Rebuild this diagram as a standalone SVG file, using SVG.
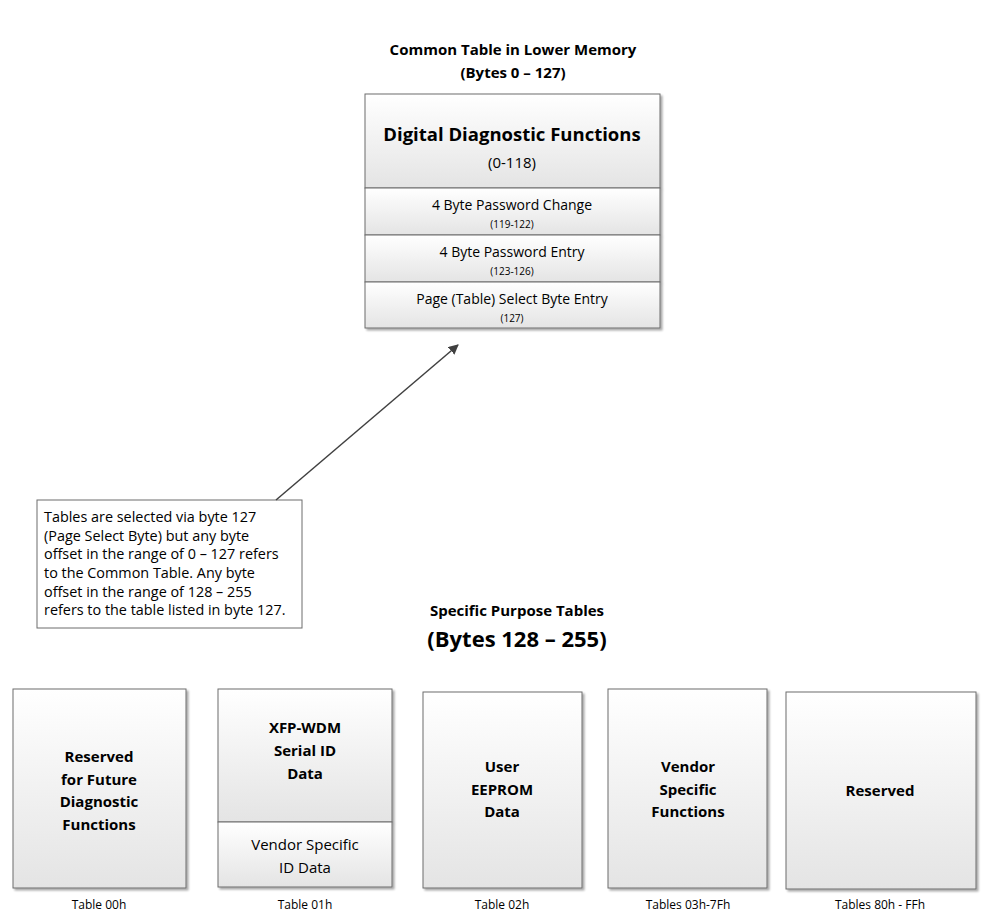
<svg xmlns="http://www.w3.org/2000/svg" width="981" height="913" viewBox="0 0 981 913">
<defs>
<linearGradient id="g" x1="0" y1="0" x2="0" y2="1">
<stop offset="0" stop-color="#ffffff"/>
<stop offset="1" stop-color="#e4e4e4"/>
</linearGradient>
<filter id="sh" x="-5%" y="-5%" width="115%" height="115%">
<feGaussianBlur in="SourceAlpha" stdDeviation="1.2"/>
<feOffset dx="2" dy="2" result="b"/>
<feComponentTransfer><feFuncA type="linear" slope="0.35"/></feComponentTransfer>
<feMerge><feMergeNode/><feMergeNode in="SourceGraphic"/></feMerge>
</filter>
<marker id="ah" viewBox="0 0 10 10" refX="9" refY="5" markerWidth="10" markerHeight="10" markerUnits="userSpaceOnUse" orient="auto">
<path d="M0,0 L10,5 L0,10 z" fill="#404040"/>
</marker>
</defs>
<style>
text{font-family:"Open Sans","Liberation Sans",sans-serif;fill:#000;}
.box{fill:url(#g);stroke:#6d6d6d;stroke-width:1;}
.t{text-anchor:middle;}
.b{font-weight:bold;}
.title{font-size:15px;font-weight:bold;text-anchor:middle;}
.bx{font-size:15px;font-weight:bold;text-anchor:middle;}
.rg{font-size:14px;text-anchor:middle;}
.sm{font-size:10px;text-anchor:middle;}
.lab{font-size:12px;text-anchor:middle;}
.note{font-size:14.4px;}
</style>
<rect width="981" height="913" fill="#fff"/>
<text class="title" x="513" y="55">Common Table in Lower Memory</text>
<text class="title" x="513" y="78">(Bytes 0 – 127)</text>
<text class="title" x="517" y="616">Specific Purpose Tables</text>
<text class="title" x="517" y="647" style="font-size:22px">(Bytes 128 – 255)</text>

<g id="common-table" filter="url(#sh)">
<rect class="box" x="365" y="94" width="295" height="94"/>
<rect class="box" x="365" y="188" width="295" height="47"/>
<rect class="box" x="365" y="235" width="295" height="47"/>
<rect class="box" x="365" y="282" width="295" height="46"/>
</g>
<g id="common-text">
<text class="t b" x="512" y="141" style="font-size:18.5px">Digital Diagnostic Functions</text>
<text class="rg" x="512" y="168" style="font-size:15px">(0-118)</text>
<text class="rg" x="512" y="210">4 Byte Password Change</text>
<text class="sm" x="512" y="228">(119-122)</text>
<text class="rg" x="512" y="257">4 Byte Password Entry</text>
<text class="sm" x="512" y="275">(123-126)</text>
<text class="rg" x="512" y="304">Page (Table) Select Byte Entry</text>
<text class="sm" x="512" y="322">(127)</text>
</g>

<g id="note">
<rect x="37" y="500" width="265" height="128" fill="#fff" stroke="#6d6d6d" stroke-width="1"/>
<text class="note" x="44" y="522">Tables are selected via byte 127</text>
<text class="note" x="44" y="541">(Page Select Byte) but any byte</text>
<text class="note" x="44" y="559">offset in the range of 0 – 127 refers</text>
<text class="note" x="44" y="578">to the Common Table. Any byte</text>
<text class="note" x="44" y="597">offset in the range of 128 – 255</text>
<text class="note" x="44" y="615">refers to the table listed in byte 127.</text>
</g>

<g id="connectors">
<line x1="276" y1="500" x2="458" y2="345" stroke="#404040" stroke-width="1.5" marker-end="url(#ah)"/>
</g>

<g id="table00">
<rect class="box" x="13" y="689" width="173" height="199" filter="url(#sh)"/>
<text class="bx" x="99" y="762">Reserved</text>
<text class="bx" x="99" y="785">for Future</text>
<text class="bx" x="99" y="807">Diagnostic</text>
<text class="bx" x="99" y="830">Functions</text>
<text class="lab" x="99" y="909">Table 00h</text>
</g>

<g id="table01">
<g filter="url(#sh)">
<rect class="box" x="218" y="689" width="174" height="133"/>
<rect class="box" x="218" y="822" width="174" height="65"/>
</g>
<text class="bx" x="305" y="733">XFP-WDM</text>
<text class="bx" x="305" y="756">Serial ID</text>
<text class="bx" x="305" y="779">Data</text>
<text class="rg" x="305" y="850" style="font-size:15px">Vendor Specific</text>
<text class="rg" x="305" y="873" style="font-size:15px">ID Data</text>
<text class="lab" x="305" y="909">Table 01h</text>
</g>

<g id="table02">
<rect class="box" x="423" y="692" width="159" height="196" filter="url(#sh)"/>
<text class="bx" x="502" y="772">User</text>
<text class="bx" x="502" y="795">EEPROM</text>
<text class="bx" x="502" y="817">Data</text>
<text class="lab" x="502" y="909">Table 02h</text>
</g>

<g id="table03">
<rect class="box" x="608" y="689" width="159" height="199" filter="url(#sh)"/>
<text class="bx" x="688" y="772">Vendor</text>
<text class="bx" x="688" y="795">Specific</text>
<text class="bx" x="688" y="817">Functions</text>
<text class="lab" x="688" y="909">Tables 03h-7Fh</text>
</g>

<g id="table80">
<rect class="box" x="786" y="692" width="190" height="197" filter="url(#sh)"/>
<text class="bx" x="880" y="796">Reserved</text>
<text class="lab" x="880" y="909">Tables 80h - FFh</text>
</g>
</svg>
